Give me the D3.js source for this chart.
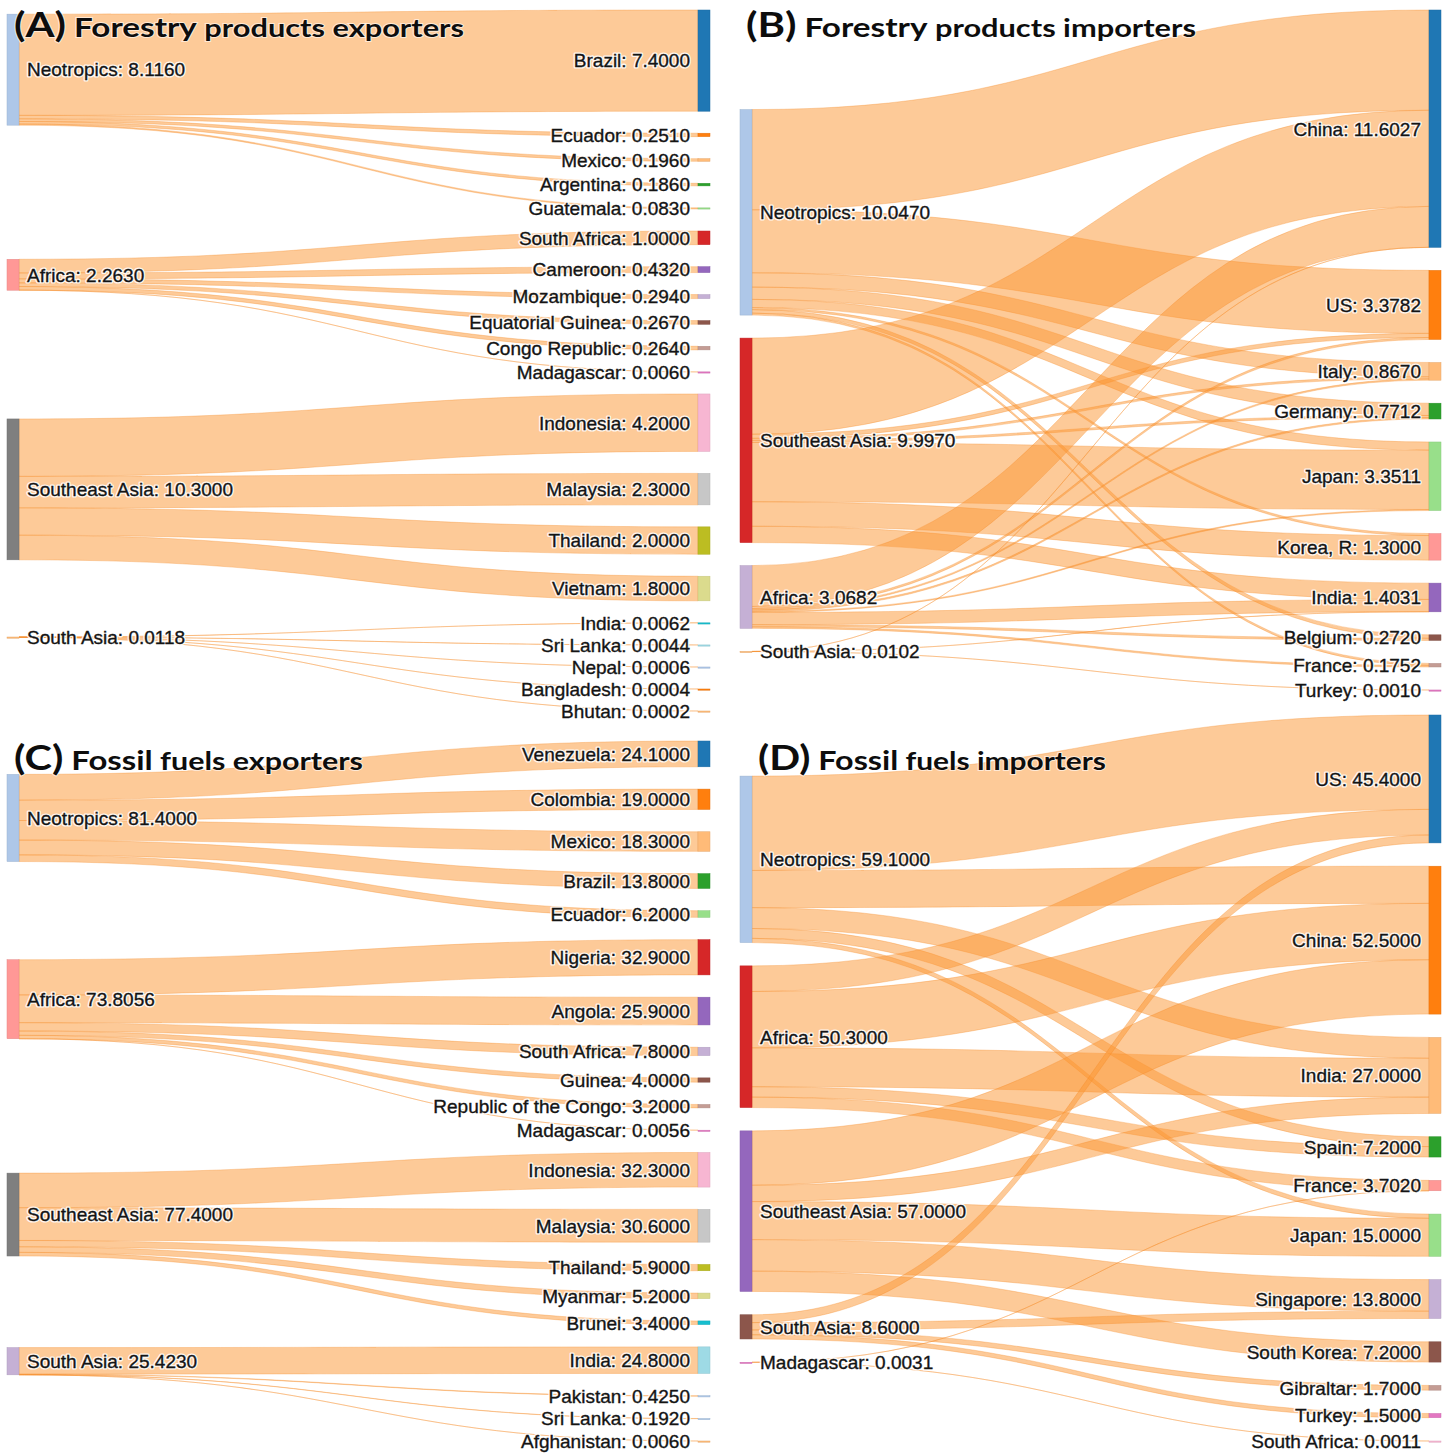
<!DOCTYPE html>
<html>
<head>
<meta charset="utf-8">
<script src="https://cdn.jsdelivr.net/npm/d3@7"></script>
<style>
body { margin: 0; background: #fff; }
.node-label {
  font-family: "Liberation Sans", Arial, sans-serif;
  font-size: 19px;
}
.node-label.halo {
  fill: #fff;
  stroke: #fff;
  stroke-width: 3.2px;
  stroke-linejoin: round;
  stroke-opacity: 0.85;
}
.node-label.ink {
  fill: #141414;
  stroke: #141414;
  stroke-width: 0.35px;
}
.title {
  font-family: Lato, "Open Sans", sans-serif;
  font-weight: bold;
  fill: #0d0d0d;
  paint-order: stroke;
  stroke: #fff;
  stroke-width: 2px;
  stroke-opacity: 0.6;
}
</style>
</head>
<body>
<svg id="chart" width="1451" height="1454"></svg>
<script>
// category20 palette used for the node bars
const cat20 = ["#1f77b4","#aec7e8","#ff7f0e","#ffbb78","#2ca02c","#98df8a","#d62728","#ff9896",
               "#9467bd","#c5b0d5","#8c564b","#c49c94","#e377c2","#f7b6d2","#7f7f7f","#c7c7c7",
               "#bcbd22","#dbdb8d","#17becf","#9edae5"];

// (A) Forestry products exporters
const aRegions = ["Neotropics", "Africa", "Southeast Asia", "South Asia"];
const aRegionValues = [8.116, 2.263, 10.3, 0.0118];
const aCountries = ["Brazil", "Ecuador", "Mexico", "Argentina", "Guatemala",
                    "South Africa", "Cameroon", "Mozambique", "Equatorial Guinea", "Congo Republic", "Madagascar",
                    "Indonesia", "Malaysia", "Thailand", "Vietnam",
                    "India", "Sri Lanka", "Nepal", "Bangladesh", "Bhutan"];
const aCountryValues = [7.4, 0.251, 0.196, 0.186, 0.083,
                        1.0, 0.432, 0.294, 0.267, 0.264, 0.006,
                        4.2, 2.3, 2.0, 1.8,
                        0.0062, 0.0044, 0.0006, 0.0004, 0.0002];
const aOrigin = [0,0,0,0,0, 1,1,1,1,1,1, 2,2,2,2, 3,3,3,3,3];

// (B) Forestry products importers
const bRegions = ["Neotropics", "Southeast Asia", "Africa", "South Asia"];
const bRegionValues = [10.047, 9.997, 3.0682, 0.0102];
const bCountries = ["China", "US", "Italy", "Germany", "Japan", "Korea, R", "India", "Belgium", "France", "Turkey"];
const bCountryValues = [11.6027, 3.3782, 0.867, 0.7712, 3.3511, 1.3, 1.4031, 0.272, 0.1752, 0.001];
const bFlows = [
  [4.90,   3.08,   0.70,  0.60,   0.40,   0.10, 0,      0.17,  0.097,  0],
  [4.70,   0.20,   0.10,  0.10,   2.90,   1.20, 0.797,  0,     0,      0],
  [2.00,   0.0982, 0.067, 0.0712, 0.0511, 0,    0.6005, 0.102, 0.0782, 0],
  [0.0027, 0,      0,     0,      0,      0,    0.0056, 0,     0,      0.001]
];

// (C) Fossil fuels exporters
const cRegions = ["Neotropics", "Africa", "Southeast Asia", "South Asia"];
const cRegionValues = [81.4, 73.8056, 77.4, 25.423];
const cCountries = ["Venezuela", "Colombia", "Mexico", "Brazil", "Ecuador",
                    "Nigeria", "Angola", "South Africa", "Guinea", "Republic of the Congo", "Madagascar",
                    "Indonesia", "Malaysia", "Thailand", "Myanmar", "Brunei",
                    "India", "Pakistan", "Sri Lanka", "Afghanistan"];
const cCountryValues = [24.1, 19.0, 18.3, 13.8, 6.2,
                        32.9, 25.9, 7.8, 4.0, 3.2, 0.0056,
                        32.3, 30.6, 5.9, 5.2, 3.4,
                        24.8, 0.425, 0.192, 0.006];
const cOrigin = [0,0,0,0,0, 1,1,1,1,1,1, 2,2,2,2,2, 3,3,3,3];

// (D) Fossil fuels importers
const dRegions = ["Neotropics", "Africa", "Southeast Asia", "South Asia", "Madagascar"];
const dRegionValues = [59.1, 50.3, 57.0, 8.6, 0.0031];
const dCountries = ["US", "China", "India", "Spain", "France", "Japan", "Singapore", "South Korea", "Gibraltar", "Turkey", "South Africa"];
const dCountryValues = [45.4, 52.5, 27.0, 7.2, 3.702, 15.0, 13.8, 7.2, 1.7, 1.5, 0.0011];
const dFlows = [
  [33.5, 13.2, 7.4,  3.5, 0,     1.5,  0,    0,   0,   0,   0],
  [9.1,  20.0, 13.8, 3.7, 3.7,   0,    0,    0,   0,   0,   0],
  [0,    19.3, 5.8,  0,   0,     13.5, 11.2, 7.2, 0,   0,   0],
  [2.8,  0,    0,    0,   0,     0,    2.6,  0,   1.7, 1.5, 0],
  [0,    0,    0,    0,   0.002, 0,    0,    0,   0,   0,   0.0011]
];

// panel settings (layout and style only)
const panels = [
  { title: ["(A)", "Forestry", "products exporters"], titleX: 14, titleY: 37, titleW: 450,
    regions: aRegions, regionValues: aRegionValues, countries: aCountries, countryValues: aCountryValues, origin: aOrigin,
    regionColors: [1, 7, 14, 3], countryColors: [0,2,3,4,5, 6,8,9,10,11,12, 13,15,16,17, 18,19,1,2,3],
    xl: 7, xr: 710, top: 10, bottom: 711, pad: 22 },
  { title: ["(B)", "Forestry", "products importers"], titleX: 746, titleY: 37, titleW: 450,
    regions: bRegions, regionValues: bRegionValues, countries: bCountries, countryValues: bCountryValues, flows: bFlows,
    regionColors: [1, 6, 9, 3], countryColors: [0,2,3,4,5,7,8,10,11,12],
    xl: 740, xr: 1441, top: 10, bottom: 690, pad: 23 },
  { title: ["(C)", "Fossil", " fuels  exporters"], titleX: 14, titleY: 770, titleW: 349,
    regions: cRegions, regionValues: cRegionValues, countries: cCountries, countryValues: cCountryValues, origin: cOrigin,
    regionColors: [1, 7, 14, 9], countryColors: [0,2,3,4,5, 6,8,9,10,11,12, 13,15,16,17,18, 19,1,1,3],
    xl: 7, xr: 710, top: 741, bottom: 1441, pad: 22.3 },
  { title: ["(D)", "Fossil", " fuels importers"], titleX: 758, titleY: 770, titleW: 348,
    regions: dRegions, regionValues: dRegionValues, countries: dCountries, countryValues: dCountryValues, flows: dFlows,
    regionColors: [1, 6, 8, 10, 12], countryColors: [0,2,3,4,7,5,9,10,11,12,13],
    xl: 740, xr: 1441, top: 715, bottom: 1441, pad: 23.3 }
];

const nodeW = 12;
const fmt = d3.format(".4f");
const svg = d3.select("#chart");
const linkLayer = svg.append("g");
const nodeLayer = svg.append("g");
const labelLayer = svg.append("g");
const titleLayer = svg.append("g");

function settle(col, p) {
  let y = p.top;
  col.forEach(n => { if (n.y0 < y) n.y0 = y; y = n.y0 + n.h + p.pad; });
  if (y - p.pad > p.bottom) {
    let yb = p.bottom;
    for (let k = col.length - 1; k >= 0; k--) {
      const n = col[k];
      if (n.y0 + n.h > yb) n.y0 = yb - n.h;
      yb = n.y0 - p.pad;
    }
  }
}

// top of the source that makes the link run flat into its target
function sourceTop(l) {
  let y = l.target.y0;
  for (const m of l.target.inn) { if (m === l) break; y += m.width; }
  for (const m of l.source.out) { if (m === l) break; y -= m.width; }
  return y;
}
function targetTop(l) {
  let y = l.source.y0;
  for (const m of l.source.out) { if (m === l) break; y += m.width; }
  for (const m of l.target.inn) { if (m === l) break; y -= m.width; }
  return y;
}

function drawPanel(p) {
  const left = p.regions.map((name, i) => ({ name, value: p.regionValues[i], color: cat20[p.regionColors[i]], out: [], inn: [] }));
  const right = p.countries.map((name, i) => ({ name, value: p.countryValues[i], color: cat20[p.countryColors[i]], out: [], inn: [] }));
  const links = [];
  if (p.origin) {
    p.origin.forEach((s, j) => links.push({ source: left[s], target: right[j], value: p.countryValues[j] }));
  } else {
    p.flows.forEach((row, i) => row.forEach((v, j) => {
      if (v > 0) links.push({ source: left[i], target: right[j], value: v });
    }));
  }
  links.forEach(l => { l.source.out.push(l); l.target.inn.push(l); });

  const span = p.bottom - p.top;
  const ky = d3.min([left, right], col => (span - (col.length - 1) * p.pad) / d3.sum(col, d => d.value));
  const size = d3.scaleLinear().domain([0, 1]).range([0, ky]);
  left.concat(right).forEach(n => n.h = size(n.value));
  links.forEach(l => l.width = size(l.value));

  [left, right].forEach(col => { let y = p.top; col.forEach(n => { n.y0 = y; y += n.h + p.pad; }); });
  for (let it = 0; it < 32; it++) {
    const alpha = Math.pow(0.99, it);
    left.forEach(s => {
      const v = d3.sum(s.out, l => l.value);
      if (v > 0) s.y0 += (d3.sum(s.out, l => sourceTop(l) * l.value) / v - s.y0) * alpha;
    });
    settle(left, p);
    right.forEach(t => {
      const v = d3.sum(t.inn, l => l.value);
      if (v > 0) t.y0 += (d3.sum(t.inn, l => targetTop(l) * l.value) / v - t.y0) * alpha;
    });
    settle(right, p);
  }
  left.forEach(n => { let y = n.y0; n.out.forEach(l => { l.sy = y; y += l.width; }); });
  right.forEach(n => { let y = n.y0; n.inn.forEach(l => { l.ty = y; y += l.width; }); });

  const xa = p.xl + nodeW, xb = p.xr - nodeW, xm = (xa + xb) / 2;
  function ribbon(l) {
    const path = d3.path();
    path.moveTo(xa, l.sy);
    path.bezierCurveTo(xm, l.sy, xm, l.ty, xb, l.ty);
    path.lineTo(xb, l.ty + l.width);
    path.bezierCurveTo(xm, l.ty + l.width, xm, l.sy + l.width, xa, l.sy + l.width);
    path.closePath();
    return path.toString();
  }

  linkLayer.append("g").selectAll("path")
    .data(links)
    .enter()
    .append("path")
    .attr("d", ribbon)
    .attr("fill", "rgba(251,150,50,0.5)")
    .attr("stroke", "rgba(244,136,36,0.45)")
    .attr("stroke-width", 0.7);

  const nodes = left.map(n => Object.assign(n, { x: p.xl, side: 0 }))
    .concat(right.map(n => Object.assign(n, { x: xb, side: 1 })));

  nodeLayer.append("g").selectAll("rect")
    .data(nodes)
    .enter()
    .append("rect")
    .attr("x", d => d.x)
    .attr("y", d => d.y0)
    .attr("width", nodeW)
    .attr("height", d => Math.max(d.h, 1.2))
    .attr("fill", d => d.color)
    .attr("stroke", d => d3.color(d.color).darker(0.3))
    .attr("stroke-width", 0.5);

  ["halo", "ink"].forEach(cls => {
    labelLayer.append("g").selectAll("text")
      .data(nodes)
      .enter()
      .append("text")
      .attr("class", "node-label " + cls)
      .attr("x", d => d.side ? xb - 8 : xa + 8)
      .attr("y", d => d.y0 + d.h / 2)
      .attr("dy", "0.36em")
      .attr("text-anchor", d => d.side ? "end" : "start")
      .text(d => d.name + ": " + fmt(d.value));
  });

  const t = titleLayer.append("text")
    .attr("class", "title")
    .attr("x", p.titleX)
    .attr("y", p.titleY)
    .attr("textLength", p.titleW)
    .attr("lengthAdjust", "spacingAndGlyphs");
  t.append("tspan").style("font-size", "34px").text(p.title[0]);
  t.append("tspan").style("font-size", "27px").text(" " + p.title[1]);
  t.append("tspan").style("font-size", "25px").text(" " + p.title[2]);
}

panels.forEach(drawPanel);
</script>
</body>
</html>
